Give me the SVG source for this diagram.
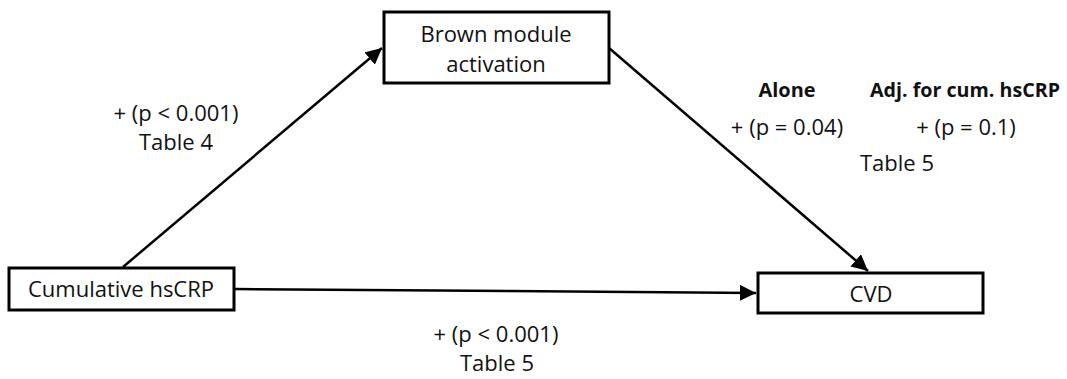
<svg xmlns="http://www.w3.org/2000/svg" width="1067" height="379" viewBox="0 0 1067 379">
<style>
.box{fill:#fff;stroke:#000;stroke-width:3}
.t{font-family:"Open Sans","Liberation Sans",sans-serif;font-size:22px;fill:#111;text-anchor:middle}
.b{font-weight:bold;font-size:20px}
.c{stroke:#000;stroke-width:2.5;fill:none}
</style>
<defs>
<marker id="ah" viewBox="0 0 10 10" refX="10" refY="5" markerWidth="6.5" markerHeight="6.5" markerUnits="strokeWidth" orient="auto">
<path d="M0,0 L10,5 L0,10 z" fill="#000"/>
</marker>
</defs>
<g id="connectors">
<line class="c" x1="123" y1="267" x2="382" y2="48" marker-end="url(#ah)"/>
<line class="c" x1="609" y1="48" x2="868" y2="271" marker-end="url(#ah)"/>
<line class="c" x1="235" y1="289" x2="756" y2="293" marker-end="url(#ah)"/>
</g>
<g id="brown">
<rect class="box" x="384" y="12" width="225" height="71"/>
<text class="t" x="496" y="42">Brown module</text>
<text class="t" x="496" y="72">activation</text>
</g>
<g id="cumulative">
<rect class="box" x="9" y="268" width="225" height="42"/>
<text class="t" x="121" y="297">Cumulative hsCRP</text>
</g>
<g id="cvd">
<rect class="box" x="758" y="273" width="225" height="40"/>
<text class="t" x="871" y="302">CVD</text>
</g>
<g id="labels">
<text class="t" x="176" y="121">+ (p &lt; 0.001)</text>
<text class="t" x="176" y="150">Table 4</text>
<text class="t" x="496" y="342">+ (p &lt; 0.001)</text>
<text class="t" x="497" y="371">Table 5</text>
<text class="t b" x="787" y="97" textLength="57" lengthAdjust="spacingAndGlyphs">Alone</text>
<text class="t b" x="965" y="97" textLength="190" lengthAdjust="spacingAndGlyphs">Adj. for cum. hsCRP</text>
<text class="t" x="787" y="135">+ (p = 0.04)</text>
<text class="t" x="966" y="135">+ (p = 0.1)</text>
<text class="t" x="897" y="171">Table 5</text>
</g>
</svg>
